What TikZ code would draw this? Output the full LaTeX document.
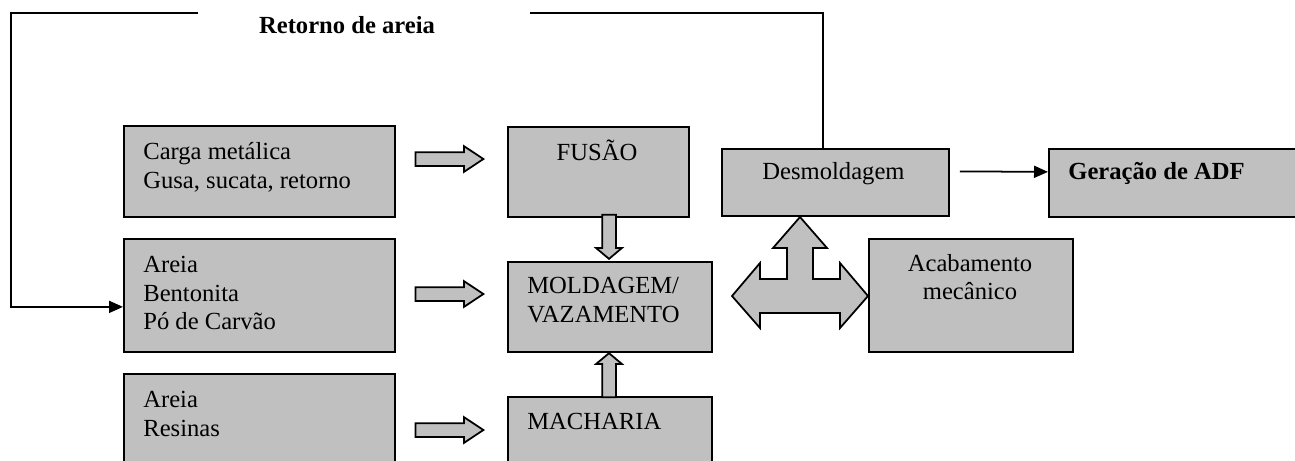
\documentclass[tikz,border=0pt]{standalone}
\usepackage{fontspec}
\setmainfont{Liberation Serif}
\usetikzlibrary{shapes.arrows, arrows.meta, positioning}
\definecolor{boxgray}{RGB}{192, 192, 192}

\begin{document}
\begin{tikzpicture}[
    stage/.style={draw, line width=1pt, fill=boxgray, anchor=north west, inner sep=0pt},
    txt/.style={inner sep=0pt, align=left, font=\fontsize{14}{16.4}\selectfont},
    fat/.style={single arrow, draw, line width=1pt, fill=boxgray, inner xsep=0pt, inner ysep=0.12cm, minimum width=0.48cm, single arrow head extend=0.12cm, anchor=tip},
    flow/.style={line width=1pt},
    tip/.style={-{Triangle[length=0.28cm, width=0.24cm]}}
]
    \useasboundingbox (0, 0) rectangle (25.9, -9.2);
    \clip (0, 0) rectangle (25.9, -9.2);

    % Input boxes - left column
    \node[stage, minimum width=5.42cm, minimum height=1.82cm] (carga) at (2.46, -2.50) {};
    \node[stage, minimum width=5.42cm, minimum height=2.26cm] (areia1) at (2.46, -4.76) {};
    \node[stage, minimum width=5.42cm, minimum height=2.20cm] (areia2) at (2.46, -7.46) {};
    \node[txt, anchor=west] (cargatxt) at (2.86, -3.35) {Carga metálica\\Gusa, sucata, retorno};
    \node[txt, anchor=west] (areia1txt) at (2.86, -5.86) {Areia\\Bentonita\\Pó de Carvão};
    \node[txt, anchor=west] (areia2txt) at (2.86, -8.28) {Areia\\Resinas};

    % Process boxes - middle column
    \node[stage, minimum width=3.62cm, minimum height=1.80cm] (fusao) at (10.14, -2.52) {};
    \node[stage, minimum width=4.08cm, minimum height=1.80cm] (moldagem) at (10.14, -5.22) {};
    \node[stage, minimum width=4.08cm, minimum height=2.00cm] (macharia) at (10.14, -7.92) {};
    \node[txt] (fusaotxt) at (11.94, -3.00) {FUSÃO};
    \node[txt, anchor=west] (moldagemtxt) at (10.54, -6.00) {MOLDAGEM/\\VAZAMENTO};
    \node[txt, anchor=west] (machariatxt) at (10.54, -8.42) {MACHARIA};

    % Right side
    \node[stage, minimum width=4.54cm, minimum height=1.34cm] (desmold) at (14.42, -2.96) {};
    \node[stage, minimum width=5.40cm, minimum height=1.36cm] (geracao) at (20.96, -2.96) {};
    \node[stage, minimum width=4.08cm, minimum height=2.26cm] (acab) at (17.36, -4.76) {};
    \node[txt] (desmoldtxt) at (16.67, -3.48) {Desmoldagem};
    \node[txt, anchor=west, font=\fontsize{14}{16.4}\selectfont\bfseries] (geracaotxt) at (21.36, -3.46) {Geração de ADF};
    \node[txt, align=center] (acabtxt) at (19.40, -5.54) {Acabamento\\mecânico};

    % Block arrows
    \node[fat, minimum height=1.36cm, single arrow tip angle=67] (fat1) at (9.70, -3.18) {};
    \node[fat, minimum height=1.36cm, single arrow tip angle=67] (fat2) at (9.70, -5.88) {};
    \node[fat, minimum height=1.36cm, single arrow tip angle=67] (fat3) at (9.70, -8.60) {};
    \node[fat, minimum height=0.88cm, single arrow tip angle=100, rotate=-90] (fatdown) at (12.18, -5.20) {};
    \node[fat, minimum height=0.88cm, single arrow tip angle=100, rotate=90] (fatup) at (12.18, -7.04) {};

    % Three-way arrow
    \draw[line width=1pt, fill=boxgray] (14.64, -5.92) -- (15.20, -5.26) -- (15.20, -5.58) -- (15.74, -5.58)
        -- (15.74, -4.96) -- (15.46, -4.96) -- (16.00, -4.34) -- (16.54, -4.96) -- (16.26, -4.96)
        -- (16.26, -5.58) -- (16.80, -5.58) -- (16.80, -5.26) -- (17.36, -5.92) -- (16.80, -6.56)
        -- (16.80, -6.26) -- (15.20, -6.26) -- (15.20, -6.56) -- cycle;

    % Sand return loop
    \coordinate (retR) at (16.46, -0.26);
    \coordinate (gapR) at (10.60, -0.26);
    \coordinate (gapL) at (3.96, -0.26);
    \coordinate (retL) at (0.22, -0.26);
    \draw[flow] (desmold.north -| retR) -- (retR) -- (gapR);
    \draw[flow, tip] (gapL) -- (retL) |- ([yshift=-0.23cm]areia1.west);
    \node[txt, font=\fontsize{14}{16.4}\selectfont\bfseries] (retorno) at (6.94, -0.50) {Retorno de areia};

    \draw[flow, tip] ([shift={(0.2, 0.22)}]desmold.east) -- ([yshift=0.22cm]geracao.west);

\end{tikzpicture}
\end{document}
